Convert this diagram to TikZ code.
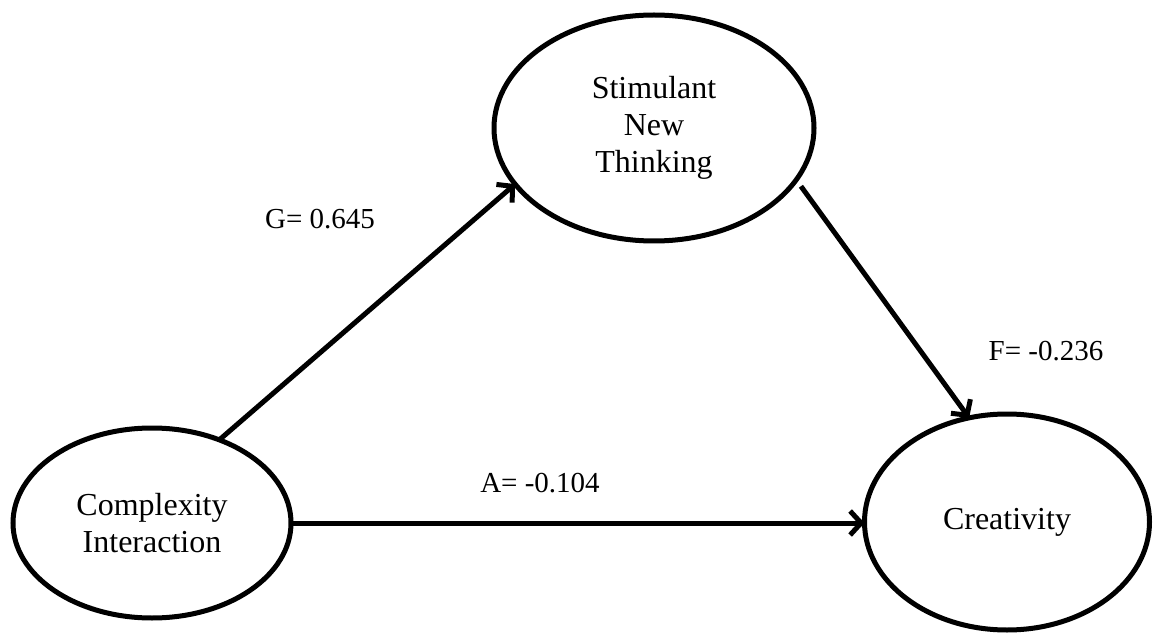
\documentclass[tikz,border=0pt]{standalone}
\usepackage{fontspec}
\setmainfont{Liberation Serif}
\usetikzlibrary{shapes.geometric,arrows.meta}
\tikzset{
  construct/.style={ellipse,draw,line width=5pt,inner sep=0pt,outer sep=0pt,
    align=center,font=\fontsize{32}{37}\selectfont},
  path arrow/.style={line width=5pt,-{Straight Barb[length=11pt,width=24pt,line width=5pt]}},
  coef/.style={font=\fontsize{29}{34}\selectfont,inner sep=0pt}
}
\begin{document}
\begin{tikzpicture}[x=1pt,y=-1pt]
\useasboundingbox (0,0) rectangle (1154,636);
\node[construct,minimum width=278pt,minimum height=190pt] (ci) at (152,523) {Complexity\\Interaction};
\node[construct,minimum width=320pt,minimum height=226pt] (snt) at (654,128) {Stimulant\\New\\Thinking};
\node[construct,minimum width=285pt,minimum height=216pt] (cr) at (1007,522) {Creativity};
\draw[path arrow] (ci.51) -- (snt.202);
\draw[path arrow,shorten <=8pt] (snt.-20) -- (cr.110);
\draw[path arrow] (ci.east) -- (ci.east -| cr.west);
\node[coef] (g) at (320,219) {G= 0.645};
\node[coef] (f) at (1046,351) {F= -0.236};
\node[coef] (a) at (540,483) {A= -0.104};
\end{tikzpicture}
\end{document}
